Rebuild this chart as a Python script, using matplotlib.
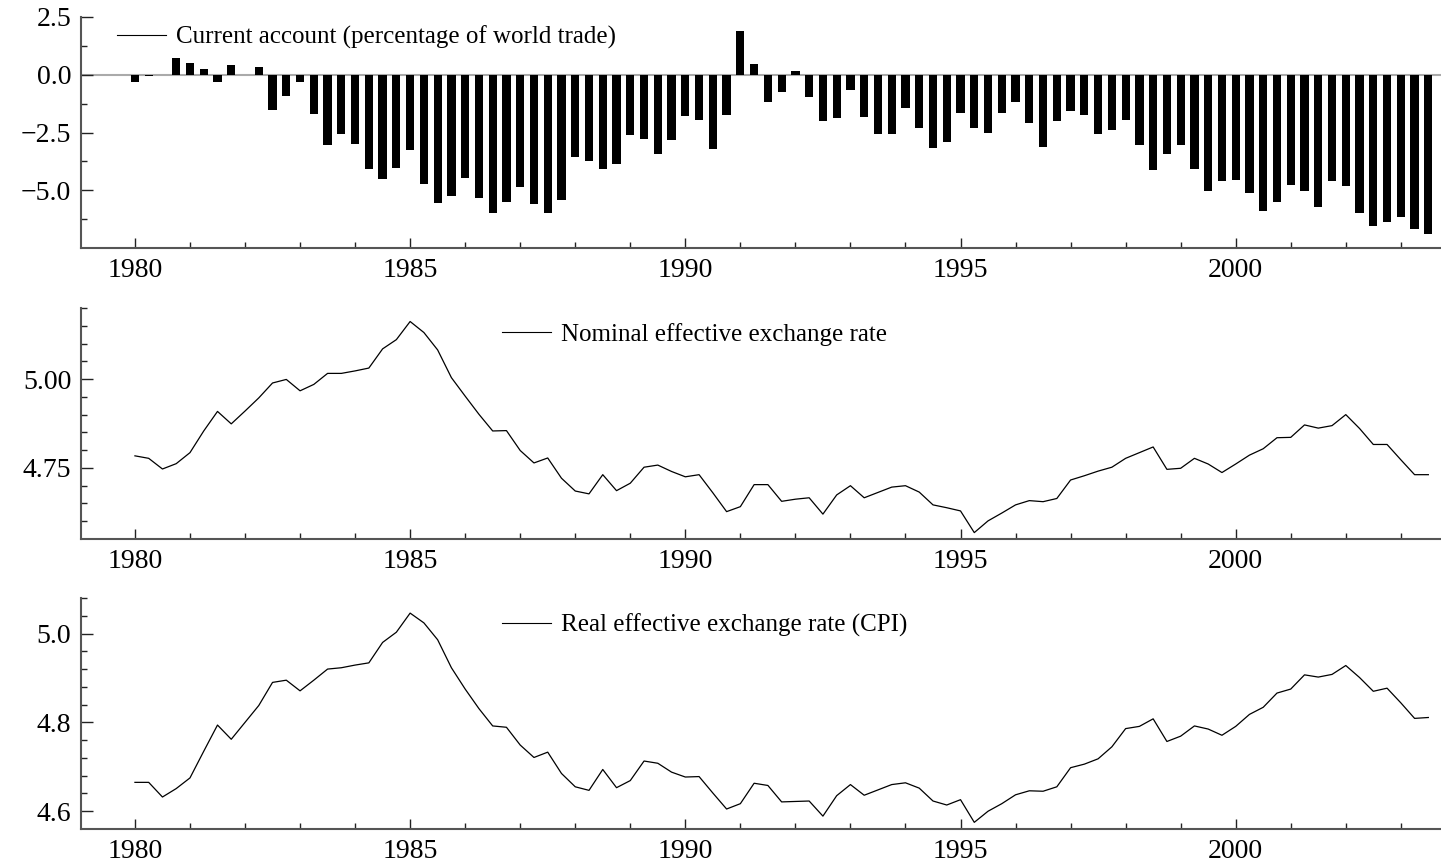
import numpy as np
import matplotlib
matplotlib.use("Agg")
import matplotlib.pyplot as plt
from matplotlib.lines import Line2D
from matplotlib.ticker import FixedLocator, FuncFormatter

plt.rcParams['font.family'] = ['Liberation Serif', 'DejaVu Serif']
plt.rcParams['axes.unicode_minus'] = True

# Quarterly data 1980Q1 .. 2003Q3
start_year = 1980
current_account = [
    -0.32, -0.05, -0.03, 0.72,
    0.52, 0.26, -0.32, 0.42,
    -0.03, 0.33, -1.52, -0.92,
    -0.32, -1.70, -3.04, -2.55,
    -2.99, -4.08, -4.50, -4.03,
    -3.25, -4.72, -5.57, -5.24,
    -4.47, -5.32, -5.99, -5.50,
    -4.85, -5.58, -5.97, -5.41,
    -3.54, -3.72, -4.07, -3.85,
    -2.60, -2.77, -3.42, -2.81,
    -1.77, -1.95, -3.20, -1.73,
    1.90, 0.48, -1.18, -0.75,
    0.16, -0.97, -1.99, -1.88,
    -0.65, -1.82, -2.55, -2.58,
    -1.44, -2.29, -3.19, -2.90,
    -1.65, -2.31, -2.51, -1.65,
    -1.17, -2.08, -3.12, -2.02,
    -1.57, -1.73, -2.55, -2.38,
    -1.98, -3.04, -4.13, -3.43,
    -3.03, -4.07, -5.02, -4.59,
    -4.55, -5.11, -5.89, -5.51,
    -4.78, -5.04, -5.73, -4.59,
    -4.82, -6.00, -6.54, -6.38,
    -6.15, -6.67, -6.88,
]
nominal_eer = [
    4.784, 4.777, 4.747, 4.762,
    4.793, 4.854, 4.909, 4.874,
    4.910, 4.947, 4.989, 4.999,
    4.967, 4.985, 5.016, 5.016,
    5.023, 5.031, 5.085, 5.111,
    5.162, 5.131, 5.082, 5.004,
    4.952, 4.901, 4.854, 4.855,
    4.799, 4.764, 4.778, 4.721,
    4.685, 4.677, 4.731, 4.686,
    4.707, 4.752, 4.758, 4.740,
    4.725, 4.731, 4.680, 4.627,
    4.641, 4.703, 4.703, 4.656,
    4.662, 4.666, 4.620, 4.674,
    4.700, 4.666, 4.681, 4.696,
    4.700, 4.682, 4.646, 4.638,
    4.629, 4.568, 4.601, 4.623,
    4.646, 4.658, 4.655, 4.664,
    4.716, 4.728, 4.741, 4.752,
    4.777, 4.793, 4.809, 4.746,
    4.749, 4.777, 4.761, 4.737,
    4.761, 4.786, 4.804, 4.835,
    4.836, 4.871, 4.862, 4.869,
    4.900, 4.861, 4.816, 4.816,
    4.773, 4.731, 4.731,
]
real_eer = [
    4.665, 4.665, 4.632, 4.651,
    4.675, 4.735, 4.794, 4.762,
    4.800, 4.838, 4.890, 4.895,
    4.871, 4.895, 4.920, 4.923,
    4.929, 4.934, 4.980, 5.003,
    5.046, 5.024, 4.986, 4.923,
    4.875, 4.831, 4.792, 4.789,
    4.749, 4.721, 4.733, 4.685,
    4.655, 4.647, 4.694, 4.653,
    4.669, 4.713, 4.708, 4.688,
    4.677, 4.678, 4.641, 4.605,
    4.617, 4.663, 4.658, 4.621,
    4.622, 4.623, 4.589, 4.635,
    4.660, 4.636, 4.648, 4.660,
    4.664, 4.652, 4.623, 4.614,
    4.626, 4.575, 4.600, 4.617,
    4.637, 4.646, 4.645, 4.655,
    4.698, 4.706, 4.718, 4.745,
    4.786, 4.791, 4.808, 4.757,
    4.769, 4.792, 4.785, 4.771,
    4.791, 4.818, 4.834, 4.866,
    4.875, 4.907, 4.902, 4.908,
    4.928, 4.901, 4.870, 4.877,
    4.844, 4.809, 4.811,
]

labels = ["Current account (percentage of world trade)",
          "Nominal effective exchange rate",
          "Real effective exchange rate (CPI)"]
xtick_major = [1980, 1985, 1990, 1995, 2000]
xtick_minor = [y for y in range(1981, 2004) if y % 5 != 0]

t = start_year + np.arange(len(current_account)) / 4.0

W, H = 1441, 868
fig = plt.figure(figsize=(W / 100, H / 100), dpi=100)

def make_ax(top_px, bot_px):
    left = 81 / W
    right = 1441 / W
    return fig.add_axes([left, 1 - bot_px / H, right - left, (bot_px - top_px) / H])

def fmt(decimals):
    def f(v, pos):
        s = f"{abs(v):.{decimals}f}"
        return ("\u2212" + s) if v < -1e-12 else s
    return FuncFormatter(f)

ax1 = make_ax(17, 248)
ax2 = make_ax(308, 539)
ax3 = make_ax(598, 829)

spine_col = '#555555'
for ax in (ax1, ax2, ax3):
    ax.set_xlim(1979.02, 2003.73)
    for s in ('top', 'right'):
        ax.spines[s].set_visible(False)
    for s in ('left', 'bottom'):
        ax.spines[s].set_linewidth(1.5)
        ax.spines[s].set_color(spine_col)
    ax.xaxis.set_major_locator(FixedLocator(xtick_major))
    ax.xaxis.set_minor_locator(FixedLocator(xtick_minor))
    ax.tick_params(axis='x', which='major', direction='in', length=7.5, width=1.0,
                   labelsize=20, pad=7, color='#222222')
    ax.tick_params(axis='x', which='minor', direction='in', length=4.0, width=1.0, color='#222222')
    ax.tick_params(axis='y', which='major', direction='in', length=8.5, width=1.0,
                   labelsize=20, pad=7, color='#222222')
    ax.tick_params(axis='y', which='minor', direction='in', length=4.3, width=1.0, color='#222222')

# Top: current account bars
ax1.axhline(0, color='#aaaaaa', lw=1.5, zorder=1)
ax1.bar(t, current_account, width=0.15, color='black', zorder=2)
ax1.set_ylim(-7.5, 2.5)
ax1.yaxis.set_major_locator(FixedLocator([-5.0, -2.5, 0.0, 2.5]))
ax1.yaxis.set_minor_locator(FixedLocator([-6.25, -3.75, -1.25, 1.25]))
ax1.yaxis.set_major_formatter(fmt(1))

# Middle: nominal EER
ax2.plot(t, nominal_eer, color='black', lw=0.9)
ax2.set_ylim(4.55, 5.20)
ax2.yaxis.set_major_locator(FixedLocator([4.75, 5.00]))
ax2.yaxis.set_minor_locator(FixedLocator([4.60, 4.65, 4.70, 4.80, 4.85, 4.90, 4.95, 5.05, 5.10, 5.15, 5.20]))
ax2.yaxis.set_major_formatter(fmt(2))

# Bottom: real EER
ax3.plot(t, real_eer, color='black', lw=0.9)
ax3.set_ylim(4.56, 5.08)
ax3.yaxis.set_major_locator(FixedLocator([4.6, 4.8, 5.0]))
ax3.yaxis.set_minor_locator(FixedLocator([4.64, 4.68, 4.72, 4.76, 4.84, 4.88, 4.92, 4.96, 5.04, 5.08]))
ax3.yaxis.set_major_formatter(fmt(1))

legend_pos = [(0.0265, 0.913), (0.3096, 0.887), (0.3096, 0.883)]
for ax, lab, pos in zip((ax1, ax2, ax3), labels, legend_pos):
    h = Line2D([], [], color='black', lw=0.8)
    ax.legend([h], [lab], loc='center left', bbox_to_anchor=pos, frameon=False,
              fontsize=18, handlelength=1.95, handletextpad=0.4,
              borderpad=0, borderaxespad=0)

fig.savefig("out.png", dpi=100)
